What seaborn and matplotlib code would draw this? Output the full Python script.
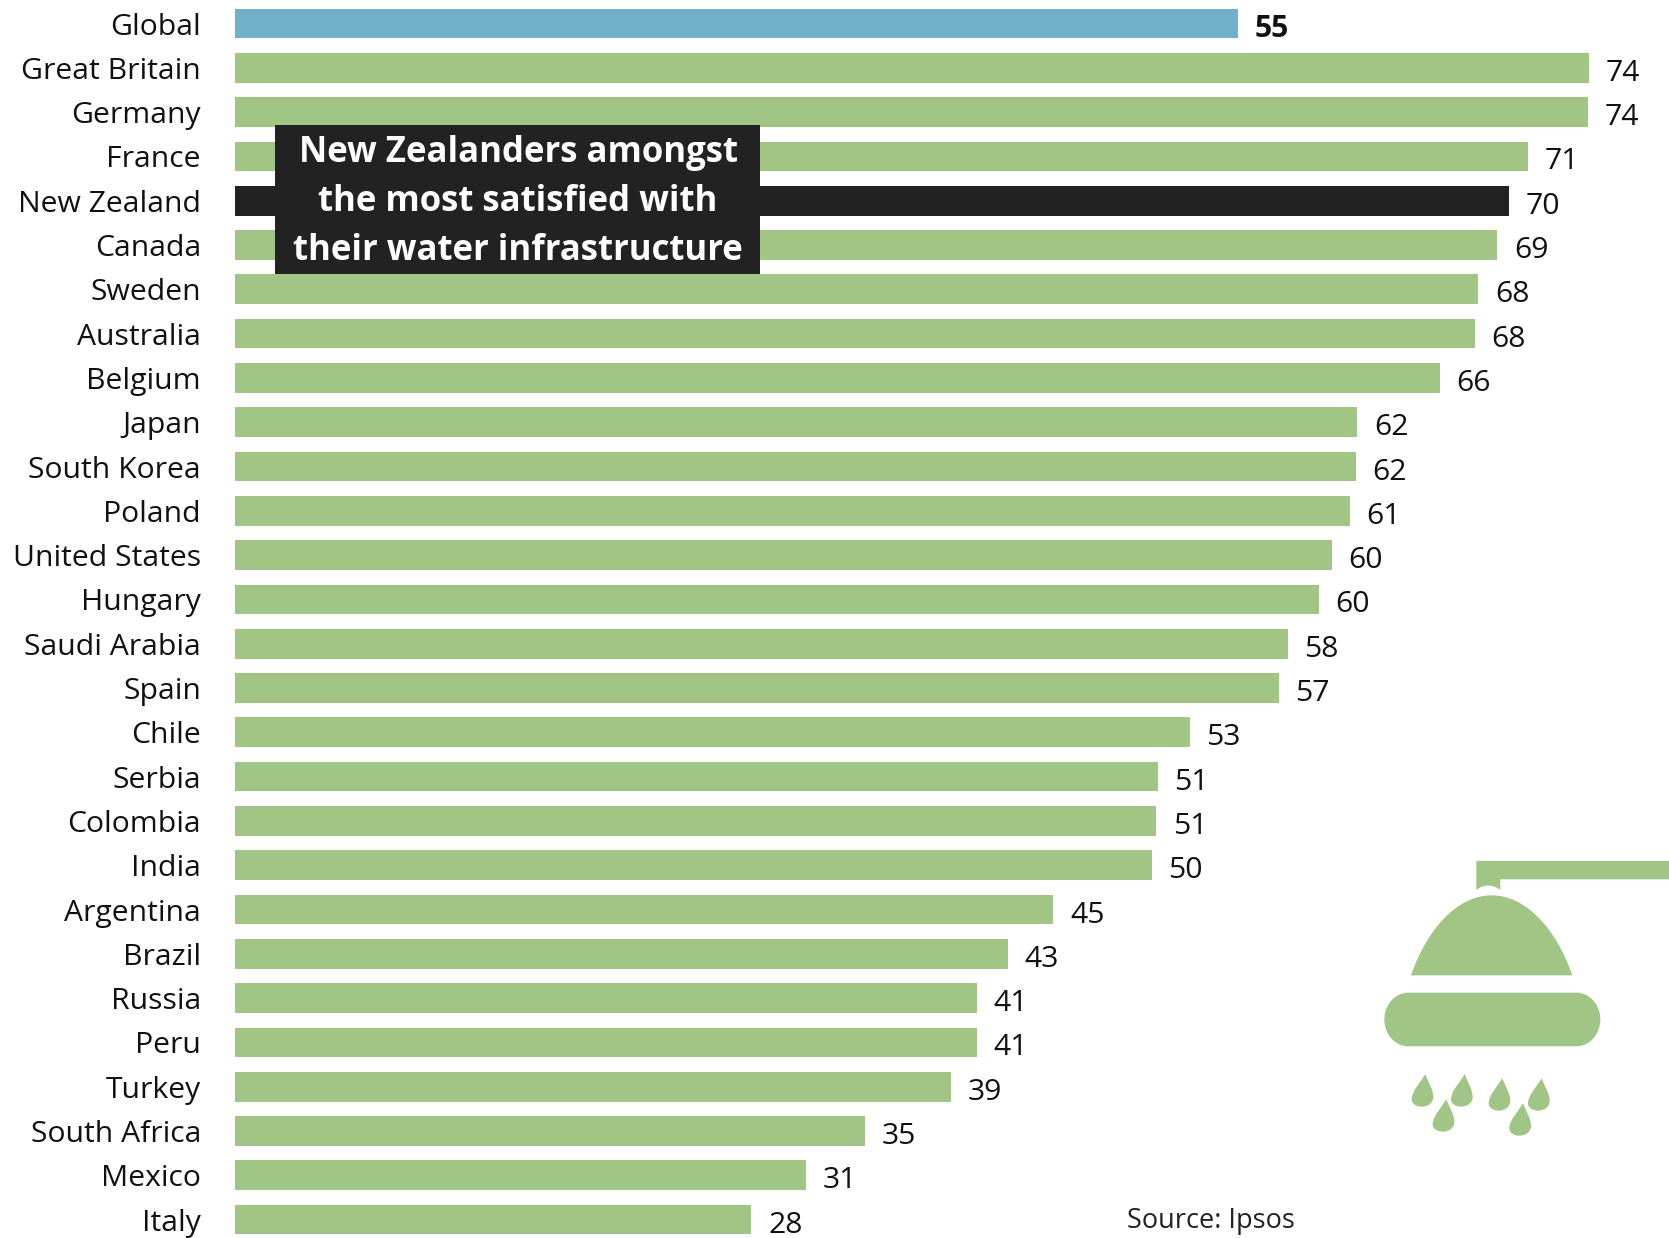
"""Satisfaction with water infrastructure by country (Ipsos)."""

import matplotlib
matplotlib.use("Agg")
import matplotlib.pyplot as plt
import pandas as pd
import seaborn as sns
from matplotlib.patches import PathPatch, Rectangle
from matplotlib.path import Path

COUNTRIES = [
    "Global", "Great Britain", "Germany", "France", "New Zealand", "Canada", "Sweden",
    "Australia", "Belgium", "Japan", "South Korea", "Poland", "United States", "Hungary",
    "Saudi Arabia", "Spain", "Chile", "Serbia", "Colombia", "India", "Argentina", "Brazil",
    "Russia", "Peru", "Turkey", "South Africa", "Mexico", "Italy",
]
# bar lengths, they differ a bit from the rounded labels
BAR_VALUES = [
    54.8, 73.95, 73.9, 70.6, 69.6, 68.95, 67.9, 67.7, 65.8, 61.3, 61.2, 60.9, 59.9, 59.2,
    57.5, 57.0, 52.15, 50.4, 50.3, 50.06, 44.7, 42.2, 40.5, 40.5, 39.1, 34.4, 31.2, 28.2,
]
LABELS = [
    55, 74, 74, 71, 70, 69, 68, 68, 66, 62, 62, 61, 60, 60,
    58, 57, 53, 51, 51, 50, 45, 43, 41, 41, 39, 35, 31, 28,
]

GREEN = "#A0C584"
BLUE = "#70B0C9"
DARK = "#222222"
FONT = "Open Sans"
FONT_SIZE = 21.7

W, H = 1669, 1238

sns.set_theme(style="white")
plt.rcParams["font.family"] = [FONT, "DejaVu Sans"]

colors = {c: GREEN for c in COUNTRIES}
colors["Global"] = BLUE
colors["New Zealand"] = DARK

df = pd.DataFrame({"country": COUNTRIES, "value": BAR_VALUES})

fig = plt.figure(figsize=(W / 100, H / 100), dpi=100)

# axes placed so that bars start at x=235 and one row is 44.3 px
px_unit = 18.31
pitch = 44.3
top = 23.5 - pitch / 2
ylim_bottom = (H - top) / pitch - 0.5
ax = fig.add_axes([235 / W, 0, 1 - 235 / W, 1 - top / H])
sns.barplot(
    data=df, x="value", y="country", hue="country", palette=colors,
    width=0.67, dodge=False, legend=False, saturation=1, linewidth=0, ax=ax,
)
ax.set_xlim(0, (W - 235) / px_unit)
ax.set_ylim(ylim_bottom, -0.5)
ax.set_xlabel("")
ax.set_ylabel("")
ax.set_xticks([])
ax.tick_params(axis="y", length=0, pad=24.5, labelsize=FONT_SIZE, labelcolor="#111111")
sns.despine(ax=ax, left=True, bottom=True)

for i, (v, lab) in enumerate(zip(BAR_VALUES, LABELS)):
    ax.annotate(
        str(lab), (v, i), xytext=(12, -4), textcoords="offset points", va="center",
        fontsize=FONT_SIZE, color="#111111",
        fontweight="bold" if COUNTRIES[i] == "Global" else "normal",
    )

# overlay in pixel coordinates for the callout, source and shower icon
ov = fig.add_axes([0, 0, 1, 1], zorder=5)
ov.set_xlim(0, W)
ov.set_ylim(H, 0)
ov.axis("off")

ov.add_patch(Rectangle((275, 125), 485, 149, color=DARK, lw=0))
for y, line in zip([153, 202, 251], ["New Zealanders amongst", "the most satisfied with",
                                     "their water infrastructure"]):
    ov.text(518, y, line, color="white", fontsize=25, fontweight="bold", ha="center", va="center")

ov.text(1127, 1221, "Source: Ipsos", fontsize=19.5, color="#222222", va="center")


def icon_path(points, codes):
    """Icon outline, points are in the 3x crop units of the icon box."""
    verts = [(1340 + x / 3, 840 + y / 3) for x, y in points]
    ov.add_patch(PathPatch(Path(verts, codes), facecolor=GREEN, edgecolor="none"))


M, L, C, Z = Path.MOVETO, Path.LINETO, Path.CURVE4, Path.CLOSEPOLY

# pipe
icon_path(
    [(409, 63), (987, 63), (987, 118), (481, 118), (481, 150),
     (458, 132), (432, 132), (409, 150), (409, 63)],
    [M, L, L, L, L, C, C, C, Z],
)
# dome
icon_path(
    [(213, 406), (260, 270), (350, 166), (455, 166),
     (560, 166), (650, 270), (697, 406), (213, 406)],
    [M, C, C, C, C, C, C, Z],
)
# head
icon_path(
    [(205, 458), (709, 458), (749, 458), (781, 494), (781, 538),
     (781, 583), (749, 619), (709, 619), (205, 619),
     (165, 619), (133, 583), (133, 538), (133, 494), (165, 458), (205, 458), (205, 458)],
    [M, L, C, C, C, C, C, C, L, C, C, C, C, C, C, Z],
)
# drops
for tx, ty in [(256, 703), (374, 703), (319, 778), (487, 715), (605, 715), (549, 790)]:
    rel = [(0, 0), (8, 22), (24, 45), (24, 68), (24, 85), (8, 97), (-10, 97),
           (-28, 97), (-41, 88), (-41, 75), (-41, 50), (-12, 20), (0, 0), (0, 0)]
    icon_path([(tx + dx, ty + dy) for dx, dy in rel], [M] + [C] * 12 + [Z])

fig.savefig("out.png", dpi=100)
plt.close(fig)
